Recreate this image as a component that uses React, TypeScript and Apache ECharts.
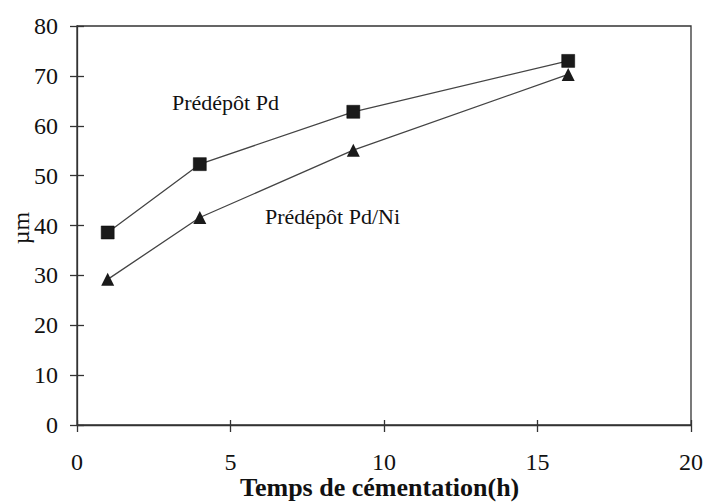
import React, { useEffect, useRef } from "react";
import * as echarts from "echarts";

const hours = [1, 4, 9, 16];
const pdValues = [38.6, 52.3, 62.8, 73.0];
const pdNiValues = [29.2, 41.6, 55.1, 70.3];
const seriesNames = ["Prédépôt Pd", "Prédépôt Pd/Ni"];
const xAxisTitle = "Temps de cémentation(h)";
const yAxisTitle = "µm";

const FONT = "Liberation Serif";

export default function App() {
  const ref = useRef<HTMLDivElement>(null);
  useEffect(() => {
    const chart = echarts.init(ref.current!, null, { renderer: "svg" });
    const axisLine = { show: true, lineStyle: { color: "#333", width: 1.3 } };
    const labelStyle = { color: "#111", fontFamily: FONT, fontSize: 24 };
    chart.setOption({
      animation: false,
      backgroundColor: "#fff",
      grid: { left: 77, right: 17, top: 26, bottom: 77, show: true, borderColor: "#333", borderWidth: 1.3 },
      xAxis: [
        {
          type: "value", min: 0, max: 20, interval: 5, position: "bottom",
          axisLine, axisTick: { show: true, length: 7, lineStyle: { color: "#333", width: 1.3 } },
          axisLabel: { ...labelStyle, margin: 25 }, splitLine: { show: false },
        },
        {
          type: "value", min: 0, max: 20, interval: 5, position: "bottom", offset: 0,
          axisLine: { show: false }, axisTick: { show: true, inside: true, length: 5, lineStyle: { color: "#333", width: 1.3 } },
          axisLabel: { show: false }, splitLine: { show: false },
        },
      ],
      yAxis: [
        {
          type: "value", min: 0, max: 80, interval: 10, position: "left",
          axisLine, axisTick: { show: true, length: 7, lineStyle: { color: "#333", width: 1.3 } },
          axisLabel: { ...labelStyle, margin: 19 }, splitLine: { show: false },
        },
        {
          type: "value", min: 0, max: 80, interval: 10, position: "left", offset: 0,
          axisLine: { show: false }, axisTick: { show: true, inside: true, length: 7, lineStyle: { color: "#333", width: 1.3 } },
          axisLabel: { show: false }, splitLine: { show: false },
        },
      ],
      series: [
        {
          name: seriesNames[0], type: "line", xAxisIndex: 0, yAxisIndex: 0,
          data: hours.map((h, i) => [h, pdValues[i]]),
          symbol: "rect", symbolSize: 13,
          lineStyle: { color: "#444", width: 1.3 },
          itemStyle: { color: "#1a1a1a", borderColor: "#000", borderWidth: 0.5 },
        },
        {
          name: seriesNames[1], type: "line", xAxisIndex: 0, yAxisIndex: 0,
          data: hours.map((h, i) => [h, pdNiValues[i]]),
          symbol: "triangle", symbolSize: 13,
          lineStyle: { color: "#444", width: 1.3 },
          itemStyle: { color: "#1a1a1a" },
        },
      ],
      graphic: [
        { type: "text", x: 172, y: 102, style: { text: seriesNames[0], fontFamily: FONT, fontSize: 22, fill: "#111", verticalAlign: "middle" } },
        { type: "text", x: 265, y: 216, style: { text: seriesNames[1], fontFamily: FONT, fontSize: 22, fill: "#111", verticalAlign: "middle" } },
        { type: "text", x: 240, y: 487, style: { text: xAxisTitle, fontFamily: FONT, fontWeight: "bold", fontSize: 26, fill: "#111", verticalAlign: "middle" } },
        { type: "text", x: 21, y: 228, rotation: Math.PI / 2, style: { text: yAxisTitle, fontFamily: FONT, fontSize: 24, fill: "#111", align: "center", verticalAlign: "middle" } },
      ],
    });
    return () => chart.dispose();
  }, []);
  return <div ref={ref} style={{ position: "fixed", left: 0, top: 0, width: 708, height: 502 }} />;
}
